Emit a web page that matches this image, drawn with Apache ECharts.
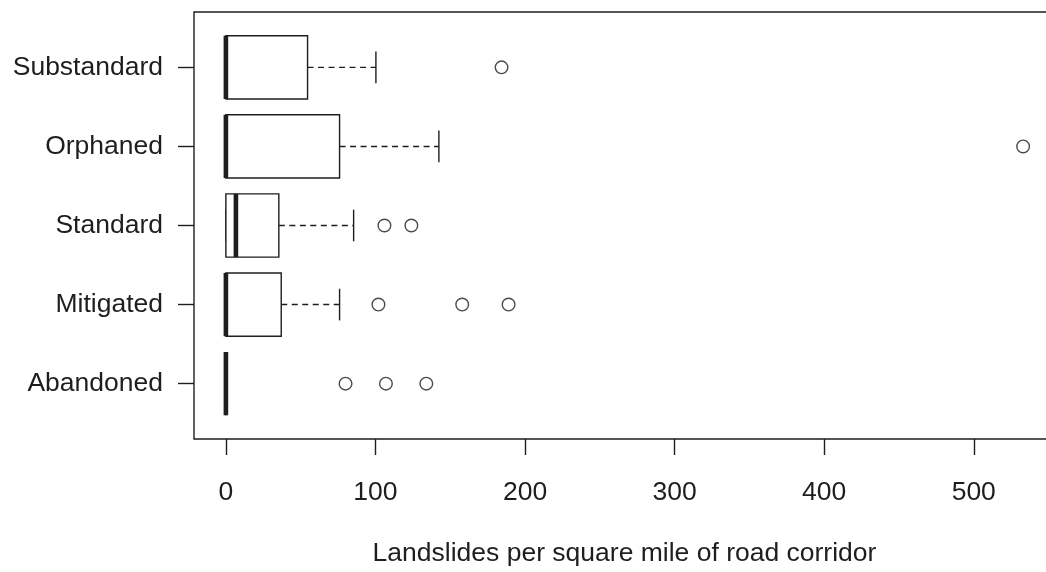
<!DOCTYPE html>
<html>
<head>
<meta charset="utf-8">
<script src="https://cdn.jsdelivr.net/npm/echarts@6/dist/echarts.min.js"></script>
<style>
  html, body { margin: 0; padding: 0; background: #ffffff; }
  #chart { width: 1046px; height: 572px; }
</style>
</head>
<body>
<div id="chart"></div>
<script>
// Road categories, listed bottom to top
const categories = ['Abandoned', 'Mitigated', 'Standard', 'Orphaned', 'Substandard'];

// Five-number summaries per category: [lower whisker, Q1, median, Q3, upper whisker]
const boxStats = [
  [0, 0, 0, 0, 0],
  [0, 0, 0, 37, 76],
  [0, 0, 6.7, 35.4, 85.4],
  [0, 0, 0, 76, 142.4],
  [0, 0, 0, 54.6, 100.3]
];

// Outlying observations per category
const outliers = [
  [80, 107, 134],
  [102, 158, 189],
  [106, 124],
  [533],
  [184.3]
];

const xTicks = [0, 100, 200, 300, 400, 500];
const xTitle = 'Landslides per square mile of road corridor';

// Axis extent: data range padded by 4% on each side
const allValues = boxStats.flat().concat(outliers.flat());
const dataMin = Math.min(...allValues);
const dataMax = Math.max(...allValues);
const pad = (dataMax - dataMin) * 0.04;
const xMin = dataMin - pad;
const xMax = dataMax + pad;
const yMin = 1 - 0.5 - 0.04 * categories.length;
const yMax = categories.length + 0.5 + 0.04 * categories.length;

const boxData = boxStats.map((s, i) => [i + 1].concat(s));
const outlierData = [];
outliers.forEach((list, i) => list.forEach(v => outlierData.push([v, i + 1])));

const INK = '#1e1e1e';
const FONT = 'Liberation Sans, Arial, Helvetica, sans-serif';
const BOX_WEX = 0.8;

function renderBox(params, api) {
  const cat = api.value(0);
  const lo = api.value(1), q1 = api.value(2), med = api.value(3), q3 = api.value(4), hi = api.value(5);
  const h = api.size([0, BOX_WEX])[1];
  const cy = api.coord([0, cat])[1];
  const x = v => api.coord([v, cat])[0];
  const stroke = { stroke: INK, lineWidth: 1.4, fill: null };
  const dashed = { stroke: INK, lineWidth: 1.4, lineDash: [6, 4.5], fill: null };
  const children = [];
  // whiskers
  children.push({ type: 'line', shape: { x1: x(q3), y1: cy, x2: x(hi), y2: cy }, style: dashed });
  children.push({ type: 'line', shape: { x1: x(lo), y1: cy, x2: x(q1), y2: cy }, style: dashed });
  // staples
  children.push({ type: 'line', shape: { x1: x(hi), y1: cy - h / 4, x2: x(hi), y2: cy + h / 4 }, style: stroke });
  children.push({ type: 'line', shape: { x1: x(lo), y1: cy - h / 4, x2: x(lo), y2: cy + h / 4 }, style: stroke });
  // box
  children.push({ type: 'rect', shape: { x: x(q1), y: cy - h / 2, width: x(q3) - x(q1), height: h },
    style: { stroke: INK, lineWidth: 1.4, fill: '#ffffff' } });
  // median
  children.push({ type: 'line', shape: { x1: x(med), y1: cy - h / 2, x2: x(med), y2: cy + h / 2 },
    style: { stroke: INK, lineWidth: 4.6, lineCap: 'butt' } });
  return { type: 'group', children: children };
}

const chart = echarts.init(document.getElementById('chart'), null, { renderer: 'canvas' });
chart.setOption({
  backgroundColor: '#ffffff',
  animation: false,
  grid: {
    left: 194, top: 12, width: 861, height: 427,
    show: true, borderColor: INK, borderWidth: 1.4, backgroundColor: 'transparent',
    outerBoundsMode: 'none', containLabel: false
  },
  xAxis: {
    type: 'value', min: xMin, max: xMax,
    splitLine: { show: false },
    axisLine: { show: false, onZero: false },
    axisTick: { show: true, length: 16, customValues: xTicks, lineStyle: { color: INK, width: 1.4 } },
    axisLabel: { customValues: xTicks, margin: 40, color: INK, fontSize: 26.5, fontFamily: FONT },
    name: xTitle, nameLocation: 'middle', nameGap: 101,
    nameTextStyle: { color: INK, fontSize: 26.5, fontFamily: FONT }
  },
  yAxis: {
    type: 'value', min: yMin, max: yMax,
    splitLine: { show: false },
    axisLine: { show: false, onZero: false },
    axisTick: { show: true, length: 16, customValues: categories.map((c, i) => i + 1), lineStyle: { color: INK, width: 1.4 } },
    axisLabel: {
      customValues: categories.map((c, i) => i + 1), margin: 31, color: INK, fontSize: 26.5, fontFamily: FONT,
      formatter: v => categories[Math.round(v) - 1] || ''
    }
  },
  series: [
    {
      type: 'custom', renderItem: renderBox, data: boxData,
      encode: { x: [1, 2, 3, 4, 5], y: 0 }, clip: false, silent: true
    },
    {
      type: 'scatter', data: outlierData, symbol: 'circle', symbolSize: 12.6,
      itemStyle: { color: '#ffffff', borderColor: INK, borderWidth: 1.4 }, silent: true
    }
  ]
});
</script>
</body>
</html>
